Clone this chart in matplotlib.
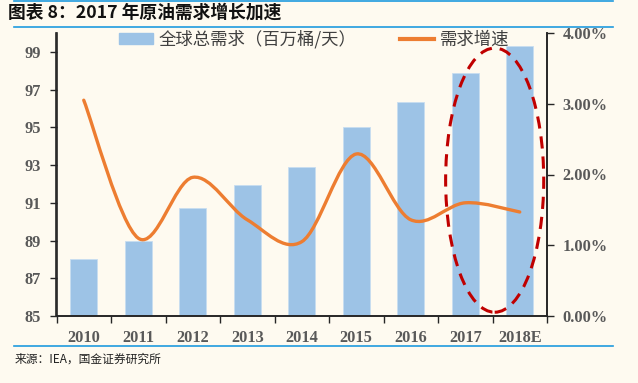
import matplotlib
matplotlib.use("Agg")
import matplotlib.pyplot as plt
import matplotlib.patches as mpatches
from matplotlib.lines import Line2D
from matplotlib.path import Path
import numpy as np

plt.rcParams["font.family"] = ["Noto Sans CJK SC", "DejaVu Sans"]

# ── Data ────────────────────────────────────────────
years = ["2010", "2011", "2012", "2013", "2014", "2015", "2016", "2017", "2018E"]
demand = [88.0, 88.95, 90.7, 91.93, 92.9, 95.0, 96.33, 97.86, 99.3]  # 百万桶/天
growth = [3.05, 1.10, 1.96, 1.36, 1.05, 2.29, 1.36, 1.60, 1.47]  # %

BG = "#FEFAF0"
BAR_C = "#9DC3E6"
LINE_C = "#ED7D31"
RING_C = "#C00000"
TICK_C = "#595959"
RULE_C = "#1F9BDE"

fig = plt.figure(figsize=(6.38, 3.83), dpi=100, facecolor=BG)
ax = fig.add_axes([56.5 / 638, 67 / 383, 490.5 / 638, 283 / 383])
ax.set_facecolor(BG)
ax2 = ax.twinx()

x = np.arange(len(years))
ax.bar(x, demand, width=0.5, color=BAR_C, edgecolor="#C8DDF0", linewidth=0.6, zorder=2)
ax.set_xlim(-0.5, len(years) - 0.5)
ax.set_ylim(85, 100)
ax.set_yticks(np.arange(85, 100, 2))
ax2.set_ylim(0, 4)
ax2.set_yticks([0, 1, 2, 3, 4])
ax2.set_yticklabels([f"{v:.2f}%" for v in [0, 1, 2, 3, 4]])

# smoothed growth line (Bezier segments through the data points, like Excel)
pts = np.column_stack([x, growth])
verts = [tuple(pts[0])]
codes = [Path.MOVETO]
for i in range(len(pts) - 1):
    p0 = pts[max(i - 1, 0)]
    p1 = pts[i]
    p2 = pts[i + 1]
    p3 = pts[min(i + 2, len(pts) - 1)]
    c1 = p1 + (p2 - p0) / 6
    c2 = p2 - (p3 - p1) / 6
    verts += [tuple(c1), tuple(c2), tuple(p2)]
    codes += [Path.CURVE4] * 3
ax2.add_patch(mpatches.PathPatch(Path(verts, codes), fill=False, edgecolor=LINE_C,
                                 linewidth=2.4, capstyle="round", zorder=3))

# dashed highlight ring around 2017 / 2018E
ring = mpatches.Ellipse((7.54, 92.2), 1.8, 14.0, transform=ax.transData, fill=False,
                        edgecolor=RING_C, linewidth=2.2, linestyle=(0, (4, 2.6)), zorder=4)
ax2.add_patch(ring)

# axes styling
for a in (ax, ax2):
    a.spines["top"].set_visible(False)
    for s in ("left", "right", "bottom"):
        a.spines[s].set_color("#262626")
        a.spines[s].set_linewidth(1.2)
ax.set_xticks(np.arange(-0.5, len(years), 1), minor=False)
ax.set_xticklabels([])
ax.set_xticks(x, minor=True)
ax.set_xticklabels(years, minor=True)
ax.tick_params(axis="x", which="major", length=5, width=1.0, color="#262626", direction="out")
ax.tick_params(axis="x", which="minor", length=0, pad=10)
ax.tick_params(axis="y", length=5, width=1.0, color="#262626", direction="out", pad=6)
ax2.tick_params(axis="y", length=5, width=1.0, color="#262626", direction="out", pad=6)

for lab in ax.get_xticklabels(minor=True) + ax.get_yticklabels() + ax2.get_yticklabels():
    lab.set_fontfamily("Liberation Serif")
    lab.set_fontweight("bold")
    lab.set_fontsize(11.8)
    lab.set_color(TICK_C)

# legend
handles = [mpatches.Patch(color=BAR_C, label="全球总需求（百万桶/天）"),
           Line2D([0], [0], color=LINE_C, linewidth=3, label="需求增速")]
leg = ax2.legend(handles=handles, loc="center left", bbox_to_anchor=(0.127, 0.978), ncol=2,
                 frameon=False, borderpad=0, borderaxespad=0, handlelength=1.95, handleheight=0.55,
                 handletextpad=0.35, columnspacing=2.5,
                 prop={"family": ["Noto Sans CJK SC", "DejaVu Sans"], "size": 12.5})
for t in leg.get_texts():
    t.set_color("#404040")

# title, rules and source
for yy in (0.8, 27, 346):
    fig.add_artist(Line2D([14 / 638, 613 / 638], [1 - yy / 383] * 2, color=RULE_C, linewidth=1.2))
fig.text(8 / 638, 1 - 13 / 383, "图表 8：2017 年原油需求增长加速", fontsize=12.8, fontweight="bold",
         color="#111111", va="center", ha="left")
fig.text(15 / 638, 1 - 359 / 383, "来源：IEA，国金证券研究所", fontsize=8.5, color="#222222",
         va="center", ha="left")

fig.savefig("out.png", dpi=100, facecolor=BG)
